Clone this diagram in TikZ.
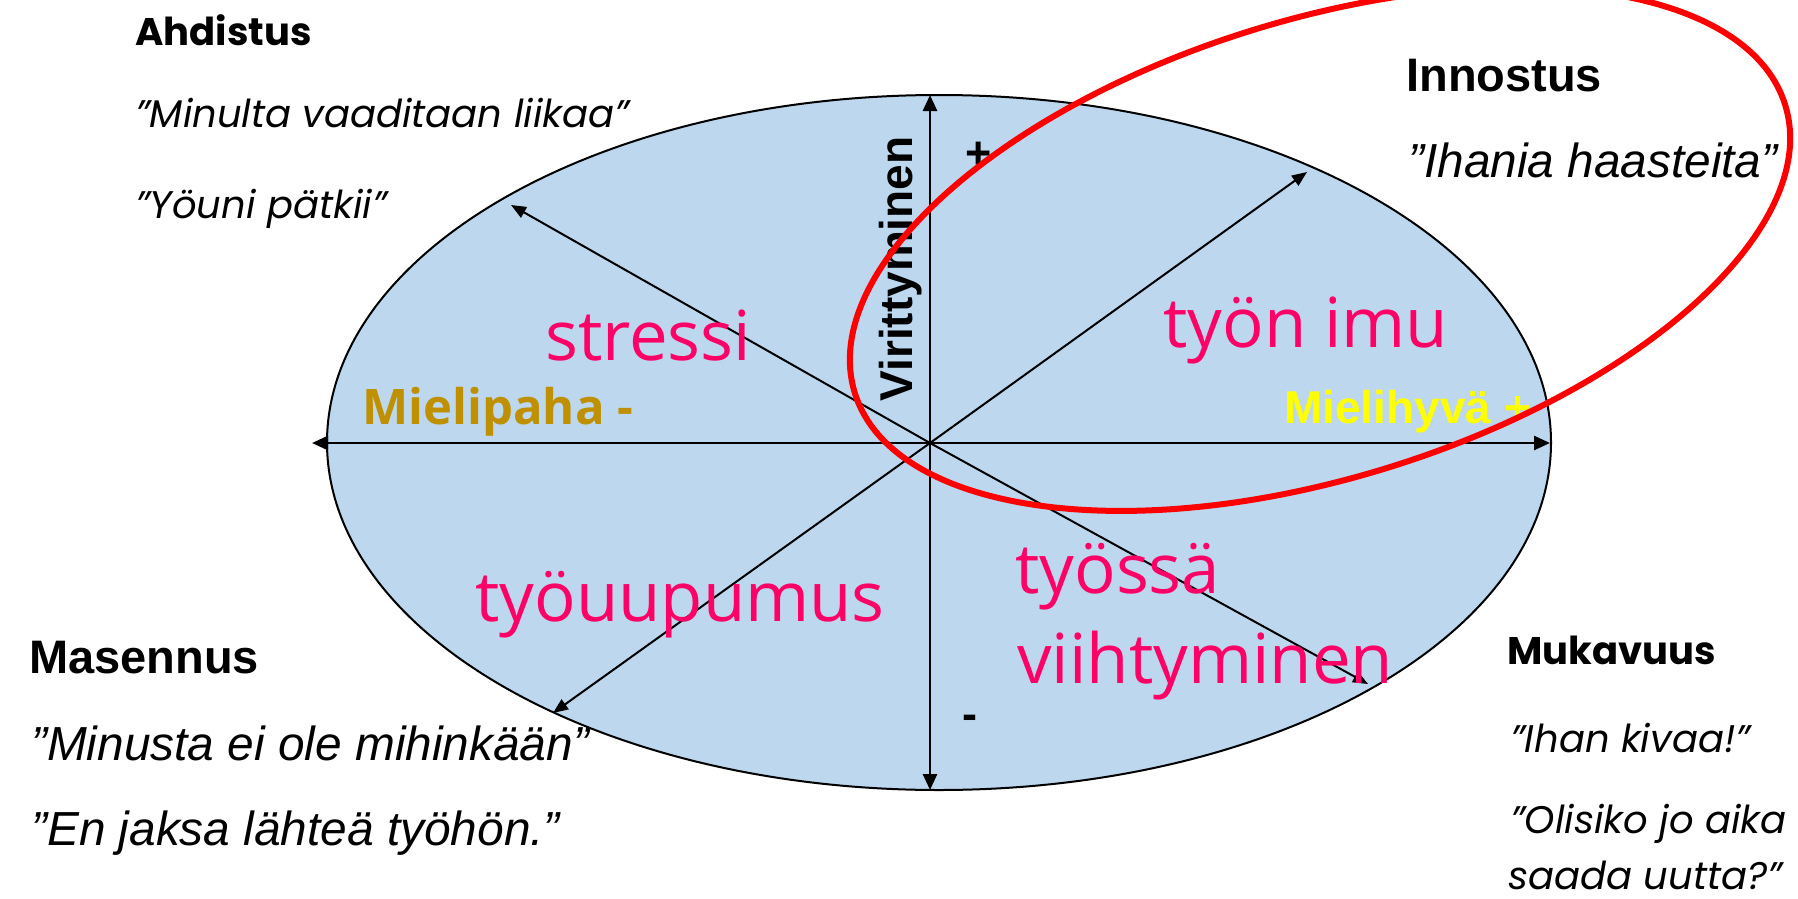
\documentclass[tikz,border=0pt]{standalone}
\usepackage{fontspec}
\usetikzlibrary{arrows.meta}
\newfontfamily\futfont{Poppins}
\newfontfamily\arialfont{Liberation Sans}
\newfontfamily\tahfont{Open Sans}
\definecolor{ellfill}{RGB}{189,215,238}
\definecolor{pinktxt}{RGB}{255,0,102}
\definecolor{goldtxt}{RGB}{191,144,0}
\definecolor{yeltxt}{RGB}{255,255,0}
\begin{document}
\begin{tikzpicture}[x=1pt,y=-1pt,
  lbl/.style={inner sep=0pt, anchor=base west},
  futhead/.style={lbl, font=\futfont\bfseries\fontsize{38.5}{42}\selectfont},
  futquote/.style={lbl, font=\futfont\itshape\fontsize{38.5}{42}\selectfont},
  arhead/.style={lbl, font=\arialfont\bfseries\fontsize{47}{52}\selectfont},
  arquote/.style={lbl, font=\arialfont\itshape\fontsize{47.8}{52}\selectfont},
  zone/.style={lbl, text=pinktxt, font=\tahfont\fontsize{69}{80}\selectfont},
  axisline/.style={line width=2.7pt, -{Triangle[length=16pt,width=14pt]}},
  diagline/.style={line width=2pt, -{Triangle[length=15pt,width=12pt]}},
  sign/.style={inner sep=0pt, anchor=base, font=\arialfont\bfseries\fontsize{45}{50}\selectfont}
]
\useasboundingbox (0,0) rectangle (1798,899);
\fill[white] (0,0) rectangle (1798,899);

% main ellipse
\draw[fill=ellfill, line width=2pt] (939,442.5) ellipse [x radius=612, y radius=347.5];

% axes
\coordinate (O) at (930,443);
\coordinate (L) at (312,443);
\coordinate (R) at (1550,443);
\coordinate (T) at (930,95);
\coordinate (B) at (930,790);
\coordinate (UL) at (511,205);
\coordinate (LR) at (1368,684);
\coordinate (UR) at (1307,172);
\coordinate (LL) at (553,713);

\draw[axisline] (O) -- (L);
\draw[axisline] (O) -- (R);
\draw[axisline] (O) -- (T);
\draw[axisline] (O) -- (B);
\draw[diagline] (O) -- (UL);
\draw[diagline] (O) -- (LR);
\draw[diagline] (O) -- (UR);
\draw[diagline] (O) -- (LL);

% zone labels
\node[zone] (stressi) at (545,360) {stressi};
\node[zone] (imu) at (1163,347) {työn imu};
\node[zone] (uupumus) at (475,621) {työuupumus};
\node[zone] (tyossa) at (1015,593) {työssä};
\node[zone] (viiht) at (1017,683) {viihtyminen};

% axis labels
\node[lbl, text=goldtxt, font=\tahfont\bfseries\fontsize{49}{55}\selectfont] (paha) at (362,424) {Mielipaha -};
\node[lbl, text=yeltxt, font=\arialfont\bfseries\fontsize{46}{52}\selectfont] (hyva) at (1284,423) {Mielihyvä +};
\node[rotate=90, anchor=base, inner sep=0pt, font=\arialfont\bfseries\fontsize{46}{50}\selectfont] (vir) at (912,269) {Virittyminen};
\node[sign] (plus) at (979,168) {+};
\node[sign] (minus) at (970,729) {-};

% corner texts
\node[futhead] (ahd) at (135,46) {Ahdistus};
\node[futquote] (ahd1) at (135,127) {”Minulta vaaditaan liikaa”};
\node[futquote] (ahd2) at (135,218) {”Yöuni pätkii”};

\node[arhead] (inn) at (1406,91) {Innostus};
\node[arquote] (inn1) at (1408,177) {”Ihania haasteita”};

\node[arhead] (mas) at (29,673) {Masennus};
\node[arquote] (mas1) at (31,760) {”Minusta ei ole mihinkään”};
\node[arquote] (mas2) at (31,845) {”En jaksa lähteä työhön.”};

\node[futhead] (muk) at (1507,664) {Mukavuus};
\node[futquote] (muk1) at (1510,752) {”Ihan kivaa!”};
\node[futquote] (muk2) at (1510,833) {”Olisiko jo aika};
\node[futquote] (muk3) at (1508,889) {saada uutta?”};

% red ellipse (work engagement)
\begin{scope}
\clip (0,0) rectangle (1798,899);
\draw[red, line width=6pt, rotate around={17.2:(1320,249)}] (1320,249) ellipse [x radius=487, y radius=229];
\end{scope}
\end{tikzpicture}
\end{document}
